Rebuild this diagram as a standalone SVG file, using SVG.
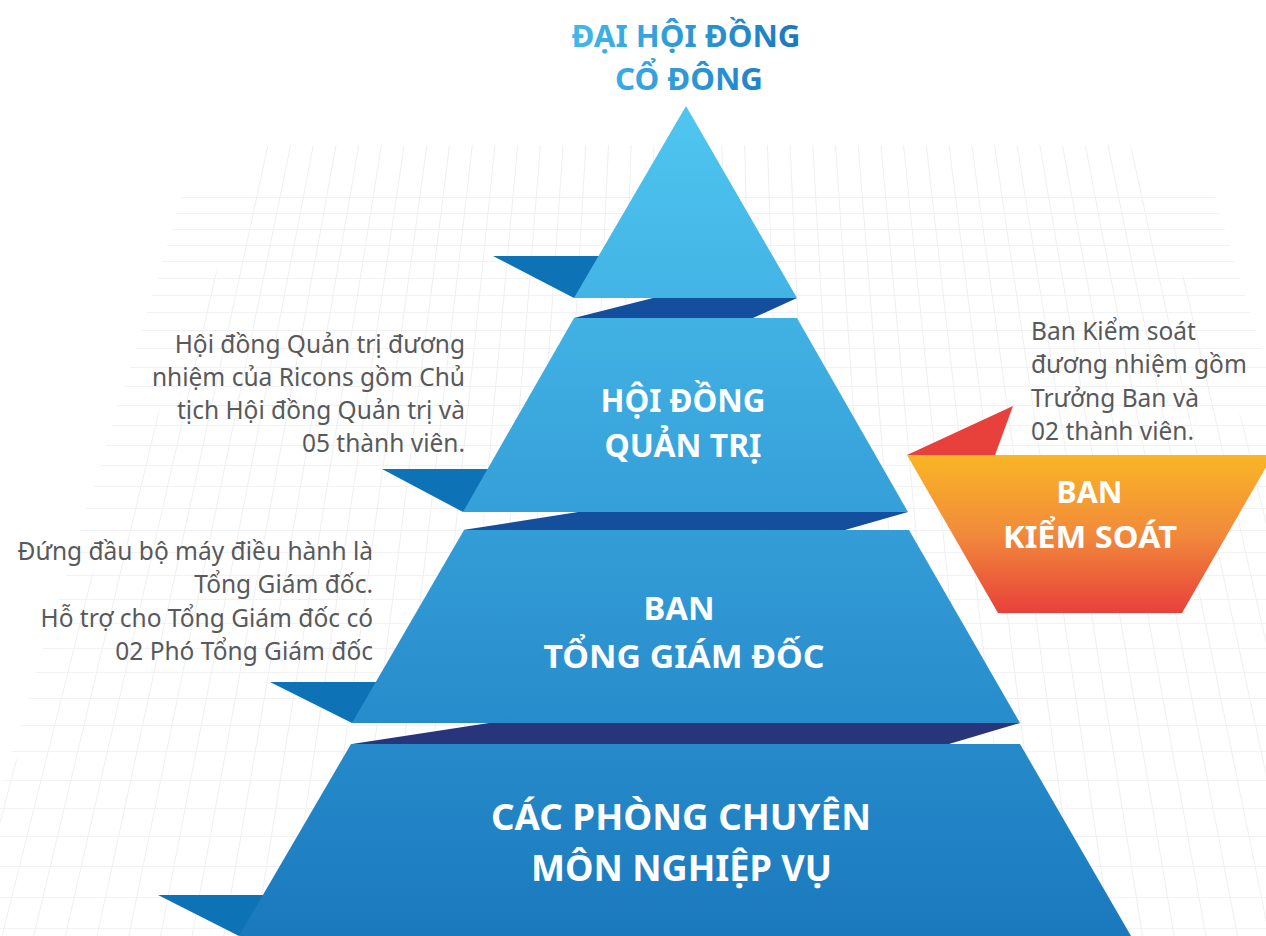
<svg xmlns="http://www.w3.org/2000/svg" width="1266" height="936" viewBox="0 0 1266 936">
<defs>
<linearGradient id="gBlue" gradientUnits="userSpaceOnUse" x1="0" y1="106" x2="0" y2="936">
<stop offset="0" stop-color="#4fc6f0"/>
<stop offset="0.5" stop-color="#349ed8"/>
<stop offset="1" stop-color="#1a79bd"/>
</linearGradient>
<linearGradient id="gOrange" gradientUnits="userSpaceOnUse" x1="0" y1="455" x2="0" y2="613">
<stop offset="0" stop-color="#f9b625"/>
<stop offset="0.5" stop-color="#f18a3b"/>
<stop offset="1" stop-color="#e8403a"/>
</linearGradient>
<linearGradient id="gTitle" gradientUnits="userSpaceOnUse" x1="571" y1="0" x2="801" y2="0">
<stop offset="0" stop-color="#41b9eb"/>
<stop offset="1" stop-color="#1b78bd"/>
</linearGradient>
<clipPath id="vclip"><polygon points="268,145 1130,145 1453,936 0,936 0,800"/></clipPath>
</defs>
<style>
.grid{stroke:#f2f2f4;stroke-width:1;fill:none}
.vgrid{stroke:#efeff2;stroke-width:1;fill:none}
.lvl{fill:url(#gBlue)}
.fold{fill:#0e72b6}
.band{fill:#134f9d}
.band3{fill:#29357a}
.lbl{font-family:"Noto Sans","Open Sans",sans-serif;font-weight:700;fill:#ffffff;text-anchor:middle}
.title{font-family:"Noto Sans","Open Sans",sans-serif;font-weight:700;fill:url(#gTitle);text-anchor:middle;font-size:31px}
.desc{font-family:"Noto Sans","Open Sans",sans-serif;font-size:24.5px;fill:#58595b}
</style>
<rect width="1266" height="936" fill="#ffffff"/>
<g id="grid">
<path class="grid" d="M182 197.5H1215M177 213.5H1220M172 229.5H1225M167 245.5H1230M162 261.5H1235M157 278.5H1240M152 295.5H1245M147 312.5H1251M141 330.5H1256M136 348.5H1262M130 367.5H1266M124 386.5H1266M118 405.5H1266M112 425.5H1266M106 445.5H1266M100 465.5H1266M93 486.5H1266M86 508.5H1266M80 530.5H1266M73 552.5H1266M66 575.5H1266M59 599.5H1266M51 623.5H1266M43 648.5H1266M36 672.5H1266M28 698.5H1266M20 725.5H1266M12 751.5H1266M3 780.5H1266M0 808.5H1266M0 836.5H1266M0 866.5H1266M0 897.5H1266M0 928.5H1266"/>
<path class="vgrid" clip-path="url(#vclip)" d="M700 -1855L-61.3 936M700 -1855L-29.6 936M700 -1855L2.1 936M700 -1855L33.7 936M700 -1855L65.4 936M700 -1855L97.1 936M700 -1855L128.8 936M700 -1855L160.5 936M700 -1855L192.1 936M700 -1855L223.8 936M700 -1855L255.5 936M700 -1855L287.2 936M700 -1855L318.9 936M700 -1855L350.5 936M700 -1855L382.2 936M700 -1855L413.9 936M700 -1855L445.6 936M700 -1855L477.3 936M700 -1855L508.9 936M700 -1855L540.6 936M700 -1855L572.3 936M700 -1855L604 936M700 -1855L635.7 936M700 -1855L667.3 936M700 -1855L699 936M700 -1855L730.7 936M700 -1855L762.4 936M700 -1855L794.1 936M700 -1855L825.7 936M700 -1855L857.4 936M700 -1855L889.1 936M700 -1855L920.8 936M700 -1855L952.5 936M700 -1855L984.1 936M700 -1855L1015.8 936M700 -1855L1047.5 936M700 -1855L1079.2 936M700 -1855L1110.9 936M700 -1855L1142.5 936M700 -1855L1174.2 936M700 -1855L1205.9 936M700 -1855L1237.6 936M700 -1855L1269.3 936M700 -1855L1300.9 936M700 -1855L1332.6 936M700 -1855L1364.3 936M700 -1855L1396 936M700 -1855L1427.7 936M700 -1855L1459.3 936"/>
</g>
<g id="title">
<text class="title" x="686" y="47" textLength="229" lengthAdjust="spacingAndGlyphs">ĐẠI HỘI ĐỒNG</text>
<text class="title" x="689" y="90" textLength="148" lengthAdjust="spacingAndGlyphs">CỔ ĐÔNG</text>
</g>
<g id="connectors">
<polygon class="band" points="574,318 653,298 797,298 753,318"/>
<polygon class="band" points="463,530 578,512 908,512 845,530"/>
<polygon class="band3" points="352,744 489,723 1020,723 949,744"/>
</g>
<g id="node-dhdcd">
<polygon class="fold" points="493,256 610,256 574,298"/>
<polygon class="lvl" points="686,106 797,298 574,298"/>
</g>
<g id="node-hdqt">
<polygon class="fold" points="382,469 500,469 463,512"/>
<polygon class="lvl" points="574,318 797,318 908,512 463,512"/>
<text class="lbl" font-size="32" x="683" y="412" textLength="165" lengthAdjust="spacingAndGlyphs">HỘI ĐỒNG</text>
<text class="lbl" font-size="32" x="683" y="457" textLength="157" lengthAdjust="spacingAndGlyphs">QUẢN TRỊ</text>
</g>
<g id="node-btgd">
<polygon class="fold" points="270,682 390,682 352,723"/>
<polygon class="lvl" points="464,530 909,530 1020,723 352,723"/>
<text class="lbl" font-size="32" x="679" y="620" textLength="71" lengthAdjust="spacingAndGlyphs">BAN</text>
<text class="lbl" font-size="32" x="684" y="668" textLength="281" lengthAdjust="spacingAndGlyphs">TỔNG GIÁM ĐỐC</text>
</g>
<g id="node-phong">
<polygon class="fold" points="158,895 280,895 239,936"/>
<polygon class="lvl" points="351,744 1020,744 1131,936 239,936"/>
<text class="lbl" font-size="35" x="681" y="830" textLength="380" lengthAdjust="spacingAndGlyphs">CÁC PHÒNG CHUYÊN</text>
<text class="lbl" font-size="35" x="681.5" y="881" textLength="301" lengthAdjust="spacingAndGlyphs">MÔN NGHIỆP VỤ</text>
</g>
<g id="node-bks">
<polygon fill="#e8403a" points="907,455 1013,406 995,455"/>
<polygon fill="url(#gOrange)" points="907,455 1273,455 1182,613 998,613"/>
<text class="lbl" font-size="31" x="1089.5" y="503" textLength="66" lengthAdjust="spacingAndGlyphs">BAN</text>
<text class="lbl" font-size="31" x="1090" y="548" textLength="174" lengthAdjust="spacingAndGlyphs">KIỂM SOÁT</text>
</g>
<g id="desc-hdqt" class="desc" text-anchor="end">
<text x="465" y="353">Hội đồng Quản trị đương</text>
<text x="465" y="386">nhiệm của Ricons gồm Chủ</text>
<text x="465" y="419">tịch Hội đồng Quản trị và</text>
<text x="465" y="452">05 thành viên.</text>
</g>
<g id="desc-btgd" class="desc" text-anchor="end">
<text x="373" y="560">Đứng đầu bộ máy điều hành là</text>
<text x="373" y="593">Tổng Giám đốc.</text>
<text x="373" y="627">Hỗ trợ cho Tổng Giám đốc có</text>
<text x="373" y="660">02 Phó Tổng Giám đốc</text>
</g>
<g id="desc-bks" class="desc">
<text x="1031" y="340">Ban Kiểm soát</text>
<text x="1031" y="373">đương nhiệm gồm</text>
<text x="1031" y="407">Trưởng Ban và</text>
<text x="1031" y="440">02 thành viên.</text>
</g>
</svg>
